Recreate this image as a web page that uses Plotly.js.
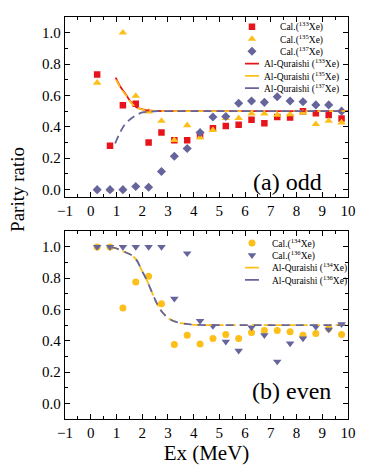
<!DOCTYPE html>
<html>
<head>
<meta charset="utf-8">
<script src="https://cdn.plot.ly/plotly-3.0.1.min.js"></script>
<style>
html,body{margin:0;padding:0;background:#fff;}
#chart{width:367px;height:474px;}
</style>
</head>
<body>
<div id="chart"></div>
<script>
// ---------- data ----------
const ex = [0.25, 0.75, 1.25, 1.75, 2.25, 2.75, 3.25, 3.75, 4.25, 4.75, 5.25, 5.75, 6.25, 6.75, 7.25, 7.75, 8.25, 8.75, 9.25, 9.75];

// (a) odd
const cal133 = [0.734, 0.28, 0.537, 0.548, 0.30, 0.364, 0.315, 0.315, 0.349, 0.391, 0.406, 0.413, 0.446, 0.423, 0.463, 0.459, 0.50, 0.486, 0.476, 0.453];
const cal135 = [0.681, 0.0, 1.0, 0.597, 0.497, 0.438, 0.315, 0.41, 0.332, 0.379, 0.455, 0.455, 0.484, 0.484, 0.476, 0.48, 0.49, 0.417, 0.438, 0.427];
const cal137 = [0.0, 0.0, 0.0, 0.02, 0.015, 0.116, 0.213, 0.262, 0.364, 0.463, 0.466, 0.55, 0.565, 0.556, 0.592, 0.565, 0.56, 0.54, 0.54, 0.50];

const aq133X = [0.97, 1.1, 1.27, 1.4, 1.53, 1.66, 1.79, 2.0, 2.18, 2.5, 3, 4, 5, 6, 7, 8, 9, 10];
const aq133Y = [0.713, 0.67, 0.628, 0.598, 0.565, 0.541, 0.523, 0.512, 0.505, 0.501, 0.5, 0.5, 0.5, 0.5, 0.5, 0.5, 0.5, 0.5];
const aq135X = [0.99, 1.1, 1.27, 1.4, 1.53, 1.66, 1.79, 2.0, 2.18, 2.5, 3, 4, 5, 6, 7, 8, 9, 10];
const aq135Y = [0.70, 0.665, 0.622, 0.595, 0.562, 0.539, 0.522, 0.511, 0.504, 0.501, 0.5, 0.5, 0.5, 0.5, 0.5, 0.5, 0.5, 0.5];
const aq137X = [0.95, 1.14, 1.33, 1.46, 1.72, 1.98, 2.3, 2.6, 3, 4, 5, 6, 7, 8, 9, 10];
const aq137Y = [0.294, 0.364, 0.417, 0.438, 0.47, 0.49, 0.497, 0.5, 0.5, 0.5, 0.5, 0.5, 0.5, 0.5, 0.5, 0.5];

// (b) even
const cal134 = [1.0, 1.0, 0.61, 0.775, 0.813, 0.637, 0.377, 0.436, 0.379, 0.415, 0.44, 0.415, 0.453, 0.466, 0.466, 0.457, 0.436, 0.447, 0.479, 0.44];
const cal136 = [1.0, 1.0, 1.0, 1.0, 1.0, 1.0, 0.669, 0.959, 0.527, 0.494, 0.394, 0.337, 0.485, 0.436, 0.267, 0.383, 0.415, 0.489, 0.472, 0.506];

const aqEvenX = [0.8, 0.95, 1.27, 1.6, 1.79, 1.98, 2.18, 2.37, 2.57, 2.76, 3.02, 3.35, 3.8, 4.05, 5, 6, 7, 8, 9, 10];
const aq134Y = [0.997, 0.993, 0.971, 0.946, 0.914, 0.851, 0.787, 0.714, 0.639, 0.587, 0.544, 0.519, 0.506, 0.502, 0.5, 0.5, 0.5, 0.5, 0.5, 0.5];
const aq136Y = [0.997, 0.993, 0.971, 0.946, 0.914, 0.851, 0.787, 0.714, 0.639, 0.587, 0.544, 0.519, 0.506, 0.502, 0.5, 0.5, 0.5, 0.5, 0.5, 0.5];

// ---------- styles ----------
const RED = '#e8141c', GOLD = '#fdbf1a', PURPLE = '#65659c';
const FONT = 'Liberation Serif';

const data = [
  {x: ex, y: cal133, type: 'scatter', mode: 'markers', name: 'Cal.(<sup>133</sup>Xe)',
   marker: {symbol: 'square', size: 6.5, color: RED}, xaxis: 'x', yaxis: 'y', legend: 'legend'},
  {x: ex, y: cal135, type: 'scatter', mode: 'markers', name: 'Cal.(<sup>135</sup>Xe)',
   marker: {symbol: 'triangle-up', size: 7.5, color: GOLD}, xaxis: 'x', yaxis: 'y', legend: 'legend'},
  {x: ex, y: cal137, type: 'scatter', mode: 'markers', name: 'Cal.(<sup>137</sup>Xe)',
   marker: {symbol: 'diamond', size: 7, color: PURPLE}, xaxis: 'x', yaxis: 'y', legend: 'legend'},
  {x: aq133X, y: aq133Y, type: 'scatter', mode: 'lines', name: 'Al-Quraishi (<sup>133</sup>Xe)',
   line: {color: RED, width: 1.8, shape: 'spline'}, xaxis: 'x', yaxis: 'y', legend: 'legend'},
  {x: aq135X, y: aq135Y, type: 'scatter', mode: 'lines', name: 'Al-Quraishi (<sup>135</sup>Xe)',
   line: {color: GOLD, width: 1.8, dash: '8px,4px', shape: 'spline'}, xaxis: 'x', yaxis: 'y', legend: 'legend'},
  {x: aq137X, y: aq137Y, type: 'scatter', mode: 'lines', name: 'Al-Quraishi (<sup>137</sup>Xe)',
   line: {color: PURPLE, width: 1.8, dash: '8px,5px', shape: 'spline'}, xaxis: 'x', yaxis: 'y', legend: 'legend'},

  {x: ex, y: cal134, type: 'scatter', mode: 'markers', name: 'Cal.(<sup>134</sup>Xe)',
   marker: {symbol: 'circle', size: 7, color: GOLD}, xaxis: 'x2', yaxis: 'y2', legend: 'legend2'},
  {x: ex, y: cal136, type: 'scatter', mode: 'markers', name: 'Cal.(<sup>136</sup>Xe)',
   marker: {symbol: 'triangle-down', size: 7.5, color: PURPLE}, xaxis: 'x2', yaxis: 'y2', legend: 'legend2'},
  {x: aqEvenX, y: aq134Y, type: 'scatter', mode: 'lines', name: 'Al-Quraishi (<sup>134</sup>Xe)',
   line: {color: GOLD, width: 1.8, dash: '8px,4px', shape: 'spline'}, xaxis: 'x2', yaxis: 'y2', legend: 'legend2'},
  {x: aqEvenX, y: aq136Y, type: 'scatter', mode: 'lines', name: 'Al-Quraishi (<sup>136</sup>Xe)',
   line: {color: PURPLE, width: 1.8, dash: '8px,6px', shape: 'spline'}, xaxis: 'x2', yaxis: 'y2', legend: 'legend2'}
];

function xAxis(anchor, extra) {
  return Object.assign({
    anchor: anchor, range: [-1, 10], dtick: 1, tick0: 0,
    ticks: 'inside', ticklen: 5, tickwidth: 1, tickcolor: '#000',
    showline: true, linewidth: 1.2, linecolor: '#000', mirror: 'ticks',
    showgrid: false, zeroline: false,
    tickfont: {family: FONT, size: 15, color: '#000'},
    minor: {dtick: 0.5, ticks: 'inside', ticklen: 3, tickwidth: 1, tickcolor: '#000', showgrid: false}
  }, extra || {});
}
function yAxis(anchor, domain, range) {
  return {
    anchor: anchor, domain: domain, range: range, dtick: 0.2, tick0: 0, tickformat: '.1f',
    ticks: 'inside', ticklen: 5, tickwidth: 1, tickcolor: '#000',
    showline: true, linewidth: 1.2, linecolor: '#000', mirror: 'ticks',
    showgrid: false, zeroline: false,
    tickfont: {family: FONT, size: 15, color: '#000'},
    minor: {dtick: 0.1, ticks: 'inside', ticklen: 3, tickwidth: 1, tickcolor: '#000', showgrid: false}
  };
}

const legendBase = {
  xanchor: 'left', yanchor: 'top', bgcolor: 'rgba(0,0,0,0)', borderwidth: 0,
  font: {family: FONT, size: 9.5, color: '#000'}, tracegroupgap: 0, traceorder: 'normal'
};

const layout = {
  width: 367, height: 474,
  margin: {l: 65, r: 19, t: 14, b: 55},
  paper_bgcolor: '#fff', plot_bgcolor: '#fff',
  font: {family: FONT, size: 15, color: '#000'},
  showlegend: true,
  xaxis: xAxis('y'),
  yaxis: yAxis('x', [0.553, 1], [-0.045, 1.1]),
  xaxis2: xAxis('y2', {title: {text: 'Ex (MeV)', font: {family: FONT, size: 21, color: '#000'}, standoff: 4}}),
  yaxis2: yAxis('x2', [0, 0.467], [-0.1, 1.1]),
  legend: Object.assign({}, legendBase, {x: 0.59, y: 1.012}),
  legend2: Object.assign({}, legendBase, {x: 0.59, y: 0.474}),
  annotations: [
    {text: '(a) odd', xref: 'x', yref: 'y', x: 9.05, y: 0.046, xanchor: 'right', yanchor: 'middle',
     showarrow: false, font: {family: FONT, size: 24, color: '#000'}},
    {text: '(b) even', xref: 'x2', yref: 'y2', x: 9.43, y: 0.076, xanchor: 'right', yanchor: 'middle',
     showarrow: false, font: {family: FONT, size: 24, color: '#000'}},
    {text: 'Parity ratio', xref: 'paper', yref: 'paper', x: -0.166, y: 0.57, xanchor: 'center', yanchor: 'middle',
     textangle: -90, showarrow: false, font: {family: FONT, size: 19, color: '#000'}}
  ]
};

Plotly.newPlot('chart', data, layout, {staticPlot: true}).then(function (gd) {
  // compact the legend rows and center their texts, like the reference legend
  ['legend', 'legend2'].forEach(function (cls) {
    const lg = gd.querySelector('g.' + cls);
    if (!lg) return;
    const items = Array.from(lg.querySelectorAll('g.traces'));
    if (!items.length) return;
    const m = /translate\(\s*([-\d.]+)[ ,]+([-\d.]+)\)/.exec(items[0].getAttribute('transform') || '');
    const y0 = m ? parseFloat(m[2]) : 10;
    const step = 12.3;
    const widths = items.map(function (it) {
      const t = it.querySelector('text.legendtext');
      return t ? t.getBBox().width : 0;
    });
    const maxW = Math.max.apply(null, widths);
    items.forEach(function (it, i) {
      it.setAttribute('transform', 'translate(0,' + (y0 + i * step) + ')');
      const t = it.querySelector('text.legendtext');
      if (t) t.setAttribute('transform', 'translate(' + ((maxW - widths[i]) / 2 - 8) + ',0)');
      it.querySelectorAll('path.js-line').forEach(function (p) {
        p.setAttribute('d', 'M13,0h14');
        p.style.strokeDasharray = 'none';
      });
      const bg = it.querySelector('rect.legendtoggle');
      if (bg) bg.setAttribute('height', step);
    });
  });
});
</script>
</body>
</html>
